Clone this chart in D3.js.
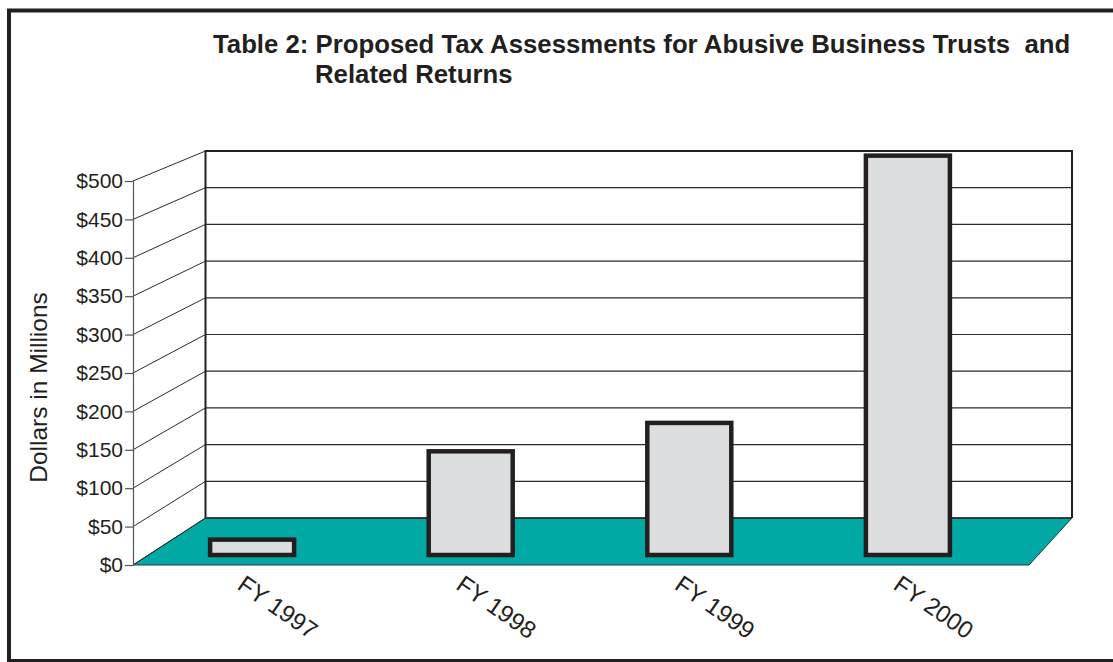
<!DOCTYPE html>
<html>
<head>
<meta charset="utf-8">
<script src="https://cdn.jsdelivr.net/npm/d3@7"></script>
<style>
  html, body { margin: 0; padding: 0; background: #ffffff; }
  svg { display: block; }
  text { font-family: "Liberation Sans", Arial, Helvetica, sans-serif; fill: #231F20; }
</style>
</head>
<body>
<svg id="chart" width="1113" height="662"></svg>
<script>
// ---- data ----
const categories = ["FY 1997", "FY 1998", "FY 1999", "FY 2000"];
const values = [20, 135, 172, 520];
const tickValues = [0, 50, 100, 150, 200, 250, 300, 350, 400, 450, 500];
const tickLabels = ["$0", "$50", "$100", "$150", "$200", "$250", "$300", "$350", "$400", "$450", "$500"];
const titleLine1 = "Table 2: Proposed Tax Assessments for Abusive Business Trusts  and";
const titleLine2 = "Related Returns";
const yTitle = "Dollars in Millions";

// ---- layout ----
const W = 1113, H = 662;
const frontX0 = 133, frontX1 = 1029;   // front edge of the floor
const backX0 = 205.5, backX1 = 1072;   // back wall
const svg = d3.select("#chart");

const yFront = d3.scaleLinear().domain([0, 500]).range([565, 181]);
const yBack = d3.scaleLinear().domain([0, 500]).range([518, 151]);
const yBar = d3.scaleLinear().domain([0, 500]).range([555, 171]);
const x = d3.scalePoint().domain(categories).range([142.8, 1017.2]).padding(0.5);
const barW = 84;

// outer frame
svg.append("rect")
  .attr("x", 9).attr("y", 10.5)
  .attr("width", W + 20).attr("height", 650.5)
  .attr("fill", "none").attr("stroke", "#231F20").attr("stroke-width", 4);

// title
const t = svg.append("text")
  .attr("font-weight", "bold").attr("font-size", 25.75)
  .style("white-space", "pre");
t.append("tspan").attr("x", 213).attr("y", 53).text(titleLine1);
t.append("tspan").attr("x", 315).attr("y", 83).text(titleLine2);

// floor
svg.append("path")
  .attr("d", d3.line()([
    [frontX0, yFront(0)], [backX0, yBack(0)], [backX1, yBack(0)], [frontX1, yFront(0)]
  ]) + "Z")
  .attr("fill", "#00A9A4")
  .attr("stroke", "#1d3b3a").attr("stroke-width", 1);

// back wall grid lines
svg.append("g").selectAll("line")
  .data(tickValues.filter(v => v > 0 && v < 500))
  .join("line")
  .attr("x1", backX0).attr("x2", backX1)
  .attr("y1", d => yBack(d)).attr("y2", d => yBack(d))
  .attr("stroke", "#2b2b2b").attr("stroke-width", 1.2);

// back wall outline
svg.append("path")
  .attr("d", d3.line()([
    [backX0, yBack(0)], [backX0, yBack(500)], [backX1, yBack(500)], [backX1, yBack(0)]
  ]))
  .attr("fill", "none").attr("stroke", "#231F20").attr("stroke-width", 2);
svg.append("line")
  .attr("x1", backX0).attr("x2", backX1)
  .attr("y1", yBack(0)).attr("y2", yBack(0))
  .attr("stroke", "#231F20").attr("stroke-width", 1.5);

// side wall diagonals
svg.append("g").selectAll("line")
  .data(tickValues)
  .join("line")
  .attr("x1", frontX0).attr("y1", d => yFront(d))
  .attr("x2", backX0).attr("y2", d => yBack(d))
  .attr("stroke", "#2b2b2b").attr("stroke-width", 1);

// front axis
const axis = d3.axisLeft(yFront)
  .tickValues(tickValues)
  .tickFormat((d, i) => tickLabels[i])
  .tickSize(8).tickPadding(2);
const ag = svg.append("g").attr("transform", `translate(${frontX0},0)`).call(axis);
ag.select(".domain").attr("stroke", "#555").attr("stroke-width", 1.2);
ag.selectAll(".tick line").attr("stroke", "#555").attr("stroke-width", 1.2);
ag.selectAll(".tick text")
  .attr("font-size", 21)
  .attr("font-family", "Liberation Sans, Arial, sans-serif")
  .attr("fill", "#231F20");

// bars
svg.append("g").selectAll("rect")
  .data(categories.map((c, i) => ({ c, v: values[i] })))
  .join("rect")
  .attr("x", d => x(d.c) - barW / 2)
  .attr("width", barW)
  .attr("y", d => yBar(d.v))
  .attr("height", d => yBar(0) - yBar(d.v))
  .attr("fill", "#DCDDDF")
  .attr("stroke", "#231F20").attr("stroke-width", 4.5);

// category labels
svg.append("g").selectAll("text")
  .data(categories)
  .join("text")
  .attr("transform", d => `translate(${x(d) - 16},588) rotate(35)`)
  .attr("font-size", 24)
  .text(d => d);

// y axis title
svg.append("text")
  .attr("transform", "translate(46.5,387.5) rotate(-90)")
  .attr("text-anchor", "middle")
  .attr("font-size", 24.5)
  .text(yTitle);
</script>
</body>
</html>
